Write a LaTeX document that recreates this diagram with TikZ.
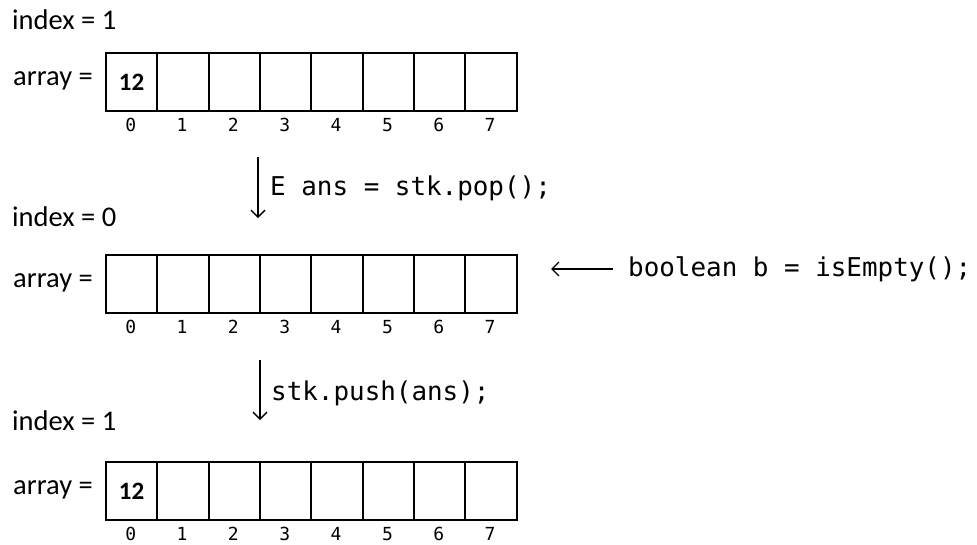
\documentclass[tikz,border=0pt]{standalone}
\usepackage{fontspec}
\setmainfont{Carlito}
\newfontfamily\codefont{DejaVu Sans Mono}
\usetikzlibrary{arrows.meta}
\begin{document}
\begin{tikzpicture}[x=1pt,y=-1pt]
\tikzset{
  cell/.style={draw, line width=1.9pt, minimum width=51.35pt, minimum height=58pt, inner sep=0pt, anchor=north west, font=\bfseries\fontsize{25}{25}\selectfont},
  lbl/.style={font=\fontsize{28.5}{30}\selectfont, inner sep=0pt},
  idx/.style={font=\codefont\fontsize{18}{18}\selectfont, inner sep=0pt, anchor=base},
  code/.style={font=\codefont\fontsize{25.9}{27}\selectfont, inner sep=0pt, anchor=west},
  arr/.style={-{Straight Barb[length=7pt,width=14pt]}, line width=1.3pt}
}
\fill[white] (0,0) rectangle (977,544);
\useasboundingbox (0,0) rectangle (977,544);
% arrays
\foreach \r/\t/\v in {1/52/12, 2/254/, 3/461/12} {
  \foreach \i in {0,...,7} {
    \pgfmathsetmacro{\xx}{105+\i*51.35}
    \node[cell] (a\r c\i) at (\xx,\t) {};
    \node[idx] (n\r c\i) at (\xx+25.7,\t+79) {\i};
  }
  \node[cell] at (105,\t) {\v};
  \node[lbl, anchor=east] (arr\r) at (93,\t+29) {array =};
}
\node[lbl, anchor=west] (ix1) at (12,20) {index = 1};
\node[lbl, anchor=west] (ix2) at (12,217) {index = 0};
\node[lbl, anchor=west] (ix3) at (12,421) {index = 1};
% arrows
\coordinate (p1s) at (258,157);
\coordinate (p1e) at (258,218);
\draw[arr] (p1s) -- (p1e);
\node[code] (c1) at (270,188) {E ans = stk.pop();};
\coordinate (p2s) at (260,360);
\coordinate (p2e) at (260,420);
\draw[arr] (p2s) -- (p2e);
\node[code] (c2) at (271,393) {stk.push(ans);};
\node[code] (c3) at (628,269) {boolean b = isEmpty();};
\coordinate (p3e) at (551,269);
\draw[arr] (c3.west) ++(-15,0) -- (p3e);
\end{tikzpicture}
\end{document}
